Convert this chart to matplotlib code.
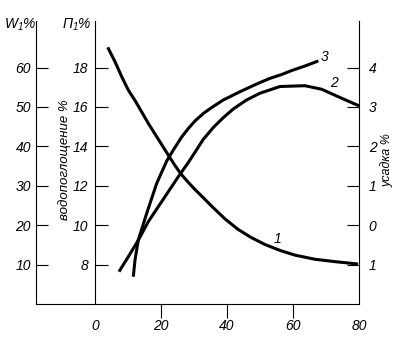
import matplotlib
matplotlib.use("Agg")
import matplotlib.pyplot as plt

plt.rcParams['font.family'] = ['Liberation Sans', 'DejaVu Sans']
plt.rcParams['mathtext.fontset'] = 'custom'
plt.rcParams['mathtext.it'] = 'Liberation Sans:italic'
plt.rcParams['mathtext.rm'] = 'Liberation Sans:italic'

# curve 1 - water absorption (П axis)
x1 = [3.85, 6.06, 8.09, 10.09, 12.12, 14.15, 16.15, 18.18, 20.21, 22.21, 24.24, 26.06,
      28.18, 30.30, 32.73, 35.45, 39.39, 43.33, 47.27, 51.52, 56.06, 60.61, 66.67, 72.73, 79.70]
p1 = [19.03, 18.30, 17.54, 16.86, 16.33, 15.75, 15.17, 14.63, 14.09, 13.56, 13.03, 12.60,
      12.19, 11.81, 11.41, 10.95, 10.32, 9.79, 9.38, 9.02, 8.72, 8.48, 8.27, 8.15, 8.03]

# curve 2 - shrinkage (right axis)
x2 = [7.27, 10.09, 13.12, 16.15, 19.18, 22.21, 25.24, 28.27, 30.82, 32.82, 35.85, 38.88,
      41.91, 45.97, 50.0, 56.06, 59.61, 63.64, 68.7, 73.73, 80.0]
u2 = [-1.18, -0.80, -0.38, 0.09, 0.47, 0.85, 1.23, 1.59, 1.92, 2.18, 2.48, 2.73,
      2.95, 3.18, 3.35, 3.52, 3.53, 3.54, 3.45, 3.26, 3.03]

# curve 3 - W axis
x3 = [11.61, 12.12, 13.12, 15.67, 18.70, 21.73, 23.73, 26.27, 28.27, 30.30, 32.82, 35.36,
      38.88, 43.94, 49.0, 53.03, 56.58, 59.61, 63.64, 67.67]
w3 = [6.93, 11.17, 16.24, 23.02, 30.63, 36.29, 39.09, 42.39, 44.54, 46.45, 48.35, 49.87,
      51.78, 53.88, 55.84, 57.28, 58.25, 59.26, 60.41, 61.68]

x_ticks = [0, 20, 40, 60, 80]
w_ticks = [10, 20, 30, 40, 50, 60]
p_ticks = [8, 10, 12, 14, 16, 18]
u_ticks = [-1, 0, 1, 2, 3, 4]
u_labels = ['1', '0', '1', '2', '3', '4']

W, H = 395, 339
fig = plt.figure(figsize=(W / 100, H / 100), dpi=100)
fs = 10
lw = 0.8

# W axis (far left)
axw = fig.add_axes([36 / W, 35 / H, 59 / W, 283 / H])
axw.set_xlim(0, 1)
axw.set_ylim(0, 283 / 3.94)
axw.spines['top'].set_visible(False)
axw.spines['right'].set_visible(False)
for s in ['left', 'bottom']:
    axw.spines[s].set_linewidth(lw)
axw.set_xticks([])
axw.set_yticks(w_ticks)
axw.set_yticklabels([str(t) for t in w_ticks], fontsize=fs, style='italic')
axw.tick_params(axis='y', direction='in', length=8.8, width=lw, pad=3.6)
axw.patch.set_visible(False)

# main axes (П)
ax = fig.add_axes([95 / W, 35 / H, 264 / W, 283 / H])
ax.set_xlim(0, 80)
ax.set_ylim(6, 6 + 283 / 19.7)
ax.spines['top'].set_visible(False)
ax.spines['right'].set_visible(False)
for s in ['left', 'bottom']:
    ax.spines[s].set_linewidth(lw)
ax.set_xticks(x_ticks)
ax.set_xticklabels([str(t) for t in x_ticks], fontsize=fs, style='italic')
ax.tick_params(axis='x', direction='out', length=10, width=lw, pad=1)
for i in (0, len(x_ticks) - 1):
    ax.xaxis.get_major_ticks()[i].tick1line.set_visible(False)
ax.set_yticks(p_ticks)
ax.set_yticklabels([str(t) for t in p_ticks], fontsize=fs, style='italic')
ax.tick_params(axis='y', direction='in', length=9.4, width=lw, pad=5)
ax.patch.set_visible(False)

# right axis (усадка)
axu = ax.twinx()
axu.set_ylim(-2, -2 + 283 / 39.4)
for s in ['top', 'left', 'bottom']:
    axu.spines[s].set_visible(False)
axu.spines['right'].set_linewidth(lw)
axu.set_yticks(u_ticks)
axu.set_yticklabels(u_labels, fontsize=fs, style='italic')
axu.tick_params(axis='y', direction='in', length=8.6, width=lw, pad=7)

# hidden W scale for curve 3
axw2 = ax.twinx()
axw2.set_ylim(0, 283 / 3.94)
axw2.axis('off')

style = dict(color='black', lw=2.2, solid_capstyle='butt', solid_joinstyle='round')
ax.plot(x1, p1, **style)
axu.plot(x2, u2, clip_on=False, **style)
axw2.plot(x3, w3, **style)

ax.text(69.7, 18.54, '3', fontsize=fs, style='italic', ha='center', va='center')
ax.text(72.4, 17.22, '2', fontsize=fs, style='italic', ha='center', va='center')
ax.text(55.2, 9.30, '1', fontsize=fs, style='italic', ha='center', va='center')

fig.text(20 / W, 1 - 25 / H, r'$W_{1}$%', fontsize=fs, style='italic', ha='center', va='center')
fig.text(77 / W, 1 - 25 / H, r'$П_{1}$%', fontsize=fs, style='italic', ha='center', va='center')
fig.text(65 / W, 1 - 160 / H, 'водопоглощение %', fontsize=9.5, style='italic',
         rotation=90, ha='center', va='center')
fig.text(387 / W, 1 - 160 / H, 'усадка %', fontsize=9, style='italic',
         rotation=90, ha='center', va='center')

fig.savefig('out.png', dpi=100)
